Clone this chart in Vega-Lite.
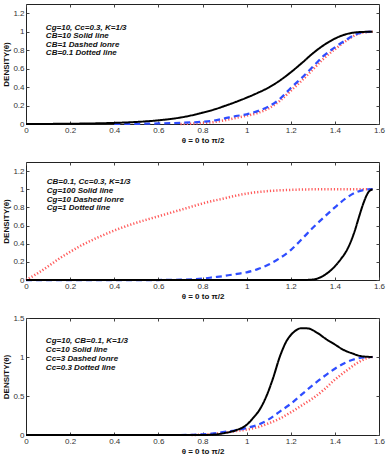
{
  "$schema": "https://vega.github.io/schema/vega-lite/v6.json",
  "padding": {"left": 2, "top": 3, "right": 4, "bottom": 2},
  "background": "white",
  "spacing": 38,
  "bounds": "flush",
  "config": {
    "view": {"stroke": "#222", "strokeWidth": 1},
    "axis": {
      "labelFont": "Liberation Sans", "labelFontSize": 8, "labelColor": "#333",
      "tickColor": "#444", "tickSize": -3, "domain": false, "grid": false,
      "titleFont": "Liberation Sans", "titleFontSize": 8, "titleFontWeight": "bold", "titleColor": "#111",
      "format": "~g", "labelFlush": false, "labelOverlap": false
    },
    "line": {"strokeCap": "butt", "interpolate": "monotone"}
  },
  "datasets": {
    "p1": [
      {"x": 0.7, "y": 0, "c": "dotted"}, {"x": 0.8, "y": 0.01, "c": "dotted"}, {"x": 0.85, "y": 0.02, "c": "dotted"}, {"x": 0.9, "y": 0.04, "c": "dotted"}, {"x": 0.95, "y": 0.065, "c": "dotted"}, {"x": 1.0, "y": 0.09, "c": "dotted"}, {"x": 1.05, "y": 0.12, "c": "dotted"}, {"x": 1.1, "y": 0.17, "c": "dotted"}, {"x": 1.15, "y": 0.25, "c": "dotted"}, {"x": 1.2, "y": 0.36, "c": "dotted"}, {"x": 1.25, "y": 0.47, "c": "dotted"}, {"x": 1.3, "y": 0.59, "c": "dotted"}, {"x": 1.35, "y": 0.71, "c": "dotted"}, {"x": 1.4, "y": 0.81, "c": "dotted"}, {"x": 1.45, "y": 0.9, "c": "dotted"}, {"x": 1.5, "y": 0.97, "c": "dotted"}, {"x": 1.55, "y": 0.997, "c": "dotted"}, {"x": 1.5708, "y": 1, "c": "dotted"},
      {"x": 0.4, "y": 0, "c": "dashed"}, {"x": 0.5, "y": 0.002, "c": "dashed"}, {"x": 0.6, "y": 0.006, "c": "dashed"}, {"x": 0.7, "y": 0.012, "c": "dashed"}, {"x": 0.8, "y": 0.025, "c": "dashed"}, {"x": 0.85, "y": 0.037, "c": "dashed"}, {"x": 0.9, "y": 0.06, "c": "dashed"}, {"x": 0.95, "y": 0.085, "c": "dashed"}, {"x": 1.0, "y": 0.105, "c": "dashed"}, {"x": 1.05, "y": 0.14, "c": "dashed"}, {"x": 1.1, "y": 0.19, "c": "dashed"}, {"x": 1.15, "y": 0.27, "c": "dashed"}, {"x": 1.2, "y": 0.39, "c": "dashed"}, {"x": 1.25, "y": 0.5, "c": "dashed"}, {"x": 1.3, "y": 0.62, "c": "dashed"}, {"x": 1.35, "y": 0.74, "c": "dashed"}, {"x": 1.4, "y": 0.83, "c": "dashed"}, {"x": 1.45, "y": 0.91, "c": "dashed"}, {"x": 1.5, "y": 0.975, "c": "dashed"}, {"x": 1.55, "y": 0.998, "c": "dashed"}, {"x": 1.5708, "y": 1, "c": "dashed"},
      {"x": 0, "y": 0, "c": "solid"}, {"x": 0.1, "y": 0.001, "c": "solid"}, {"x": 0.2, "y": 0.003, "c": "solid"}, {"x": 0.3, "y": 0.006, "c": "solid"}, {"x": 0.4, "y": 0.012, "c": "solid"}, {"x": 0.5, "y": 0.022, "c": "solid"}, {"x": 0.6, "y": 0.04, "c": "solid"}, {"x": 0.7, "y": 0.07, "c": "solid"}, {"x": 0.8, "y": 0.122, "c": "solid"}, {"x": 0.85, "y": 0.155, "c": "solid"}, {"x": 0.9, "y": 0.195, "c": "solid"}, {"x": 0.95, "y": 0.238, "c": "solid"}, {"x": 1.0, "y": 0.285, "c": "solid"}, {"x": 1.05, "y": 0.337, "c": "solid"}, {"x": 1.1, "y": 0.395, "c": "solid"}, {"x": 1.15, "y": 0.47, "c": "solid"}, {"x": 1.2, "y": 0.56, "c": "solid"}, {"x": 1.25, "y": 0.66, "c": "solid"}, {"x": 1.3, "y": 0.765, "c": "solid"}, {"x": 1.35, "y": 0.855, "c": "solid"}, {"x": 1.4, "y": 0.925, "c": "solid"}, {"x": 1.45, "y": 0.972, "c": "solid"}, {"x": 1.5, "y": 0.994, "c": "solid"}, {"x": 1.5708, "y": 1, "c": "solid"}
    ],
    "p2": [
      {"x": 0, "y": 0, "c": "dotted"}, {"x": 0.05, "y": 0.07, "c": "dotted"}, {"x": 0.1, "y": 0.15, "c": "dotted"}, {"x": 0.15, "y": 0.235, "c": "dotted"}, {"x": 0.2, "y": 0.31, "c": "dotted"}, {"x": 0.25, "y": 0.38, "c": "dotted"}, {"x": 0.3, "y": 0.44, "c": "dotted"}, {"x": 0.35, "y": 0.495, "c": "dotted"}, {"x": 0.4, "y": 0.545, "c": "dotted"}, {"x": 0.45, "y": 0.59, "c": "dotted"}, {"x": 0.5, "y": 0.63, "c": "dotted"}, {"x": 0.55, "y": 0.667, "c": "dotted"}, {"x": 0.6, "y": 0.702, "c": "dotted"}, {"x": 0.65, "y": 0.737, "c": "dotted"}, {"x": 0.7, "y": 0.772, "c": "dotted"}, {"x": 0.75, "y": 0.808, "c": "dotted"}, {"x": 0.8, "y": 0.843, "c": "dotted"}, {"x": 0.85, "y": 0.873, "c": "dotted"}, {"x": 0.9, "y": 0.9, "c": "dotted"}, {"x": 0.95, "y": 0.928, "c": "dotted"}, {"x": 1.0, "y": 0.952, "c": "dotted"}, {"x": 1.1, "y": 0.98, "c": "dotted"}, {"x": 1.2, "y": 0.993, "c": "dotted"}, {"x": 1.3, "y": 0.999, "c": "dotted"}, {"x": 1.4, "y": 1, "c": "dotted"}, {"x": 1.5708, "y": 1, "c": "dotted"},
      {"x": 0, "y": 0, "c": "dashed"}, {"x": 0.6, "y": 0, "c": "dashed"}, {"x": 0.7, "y": 0.003, "c": "dashed"}, {"x": 0.8, "y": 0.015, "c": "dashed"}, {"x": 0.85, "y": 0.03, "c": "dashed"}, {"x": 0.9, "y": 0.045, "c": "dashed"}, {"x": 0.95, "y": 0.065, "c": "dashed"}, {"x": 1.0, "y": 0.085, "c": "dashed"}, {"x": 1.05, "y": 0.12, "c": "dashed"}, {"x": 1.1, "y": 0.17, "c": "dashed"}, {"x": 1.15, "y": 0.24, "c": "dashed"}, {"x": 1.2, "y": 0.33, "c": "dashed"}, {"x": 1.25, "y": 0.45, "c": "dashed"}, {"x": 1.3, "y": 0.575, "c": "dashed"}, {"x": 1.35, "y": 0.69, "c": "dashed"}, {"x": 1.4, "y": 0.8, "c": "dashed"}, {"x": 1.45, "y": 0.9, "c": "dashed"}, {"x": 1.5, "y": 0.97, "c": "dashed"}, {"x": 1.55, "y": 0.998, "c": "dashed"}, {"x": 1.5708, "y": 1, "c": "dashed"},
      {"x": 0, "y": 0, "c": "solid"}, {"x": 1.25, "y": 0, "c": "solid"}, {"x": 1.3, "y": 0.005, "c": "solid"}, {"x": 1.35, "y": 0.05, "c": "solid"}, {"x": 1.4, "y": 0.15, "c": "solid"}, {"x": 1.43, "y": 0.24, "c": "solid"}, {"x": 1.45, "y": 0.31, "c": "solid"}, {"x": 1.47, "y": 0.41, "c": "solid"}, {"x": 1.49, "y": 0.54, "c": "solid"}, {"x": 1.51, "y": 0.7, "c": "solid"}, {"x": 1.53, "y": 0.85, "c": "solid"}, {"x": 1.55, "y": 0.96, "c": "solid"}, {"x": 1.5708, "y": 1, "c": "solid"}
    ],
    "p3": [
      {"x": 0.75, "y": 0, "c": "dotted"}, {"x": 0.8, "y": 0.005, "c": "dotted"}, {"x": 0.85, "y": 0.015, "c": "dotted"}, {"x": 0.9, "y": 0.03, "c": "dotted"}, {"x": 0.95, "y": 0.05, "c": "dotted"}, {"x": 1.0, "y": 0.07, "c": "dotted"}, {"x": 1.05, "y": 0.1, "c": "dotted"}, {"x": 1.1, "y": 0.15, "c": "dotted"}, {"x": 1.15, "y": 0.21, "c": "dotted"}, {"x": 1.2, "y": 0.29, "c": "dotted"}, {"x": 1.25, "y": 0.38, "c": "dotted"}, {"x": 1.3, "y": 0.47, "c": "dotted"}, {"x": 1.35, "y": 0.58, "c": "dotted"}, {"x": 1.4, "y": 0.71, "c": "dotted"}, {"x": 1.45, "y": 0.82, "c": "dotted"}, {"x": 1.5, "y": 0.92, "c": "dotted"}, {"x": 1.55, "y": 0.99, "c": "dotted"}, {"x": 1.5708, "y": 1, "c": "dotted"},
      {"x": 0.7, "y": 0, "c": "dashed"}, {"x": 0.75, "y": 0.002, "c": "dashed"}, {"x": 0.8, "y": 0.008, "c": "dashed"}, {"x": 0.85, "y": 0.02, "c": "dashed"}, {"x": 0.9, "y": 0.04, "c": "dashed"}, {"x": 0.95, "y": 0.06, "c": "dashed"}, {"x": 1.0, "y": 0.09, "c": "dashed"}, {"x": 1.05, "y": 0.13, "c": "dashed"}, {"x": 1.1, "y": 0.2, "c": "dashed"}, {"x": 1.15, "y": 0.3, "c": "dashed"}, {"x": 1.2, "y": 0.4, "c": "dashed"}, {"x": 1.25, "y": 0.52, "c": "dashed"}, {"x": 1.3, "y": 0.64, "c": "dashed"}, {"x": 1.35, "y": 0.75, "c": "dashed"}, {"x": 1.4, "y": 0.85, "c": "dashed"}, {"x": 1.45, "y": 0.93, "c": "dashed"}, {"x": 1.5, "y": 0.98, "c": "dashed"}, {"x": 1.55, "y": 0.998, "c": "dashed"}, {"x": 1.5708, "y": 1, "c": "dashed"},
      {"x": 0, "y": 0, "c": "solid"}, {"x": 0.8, "y": 0, "c": "solid"}, {"x": 0.85, "y": 0.005, "c": "solid"}, {"x": 0.9, "y": 0.025, "c": "solid"}, {"x": 0.95, "y": 0.06, "c": "solid"}, {"x": 1.0, "y": 0.13, "c": "solid"}, {"x": 1.03, "y": 0.22, "c": "solid"}, {"x": 1.06, "y": 0.33, "c": "solid"}, {"x": 1.09, "y": 0.5, "c": "solid"}, {"x": 1.12, "y": 0.73, "c": "solid"}, {"x": 1.15, "y": 1.0, "c": "solid"}, {"x": 1.18, "y": 1.2, "c": "solid"}, {"x": 1.21, "y": 1.31, "c": "solid"}, {"x": 1.25, "y": 1.37, "c": "solid"}, {"x": 1.28, "y": 1.365, "c": "solid"}, {"x": 1.32, "y": 1.31, "c": "solid"}, {"x": 1.36, "y": 1.23, "c": "solid"}, {"x": 1.4, "y": 1.16, "c": "solid"}, {"x": 1.44, "y": 1.09, "c": "solid"}, {"x": 1.48, "y": 1.045, "c": "solid"}, {"x": 1.52, "y": 1.01, "c": "solid"}, {"x": 1.5708, "y": 1, "c": "solid"}
    ],
    "t1": [
      {"x": 0.09, "y": 1.035, "label": "Cg=10, Cc=0.3, K=1/3"},
      {"x": 0.09, "y": 0.952, "label": "CB=10 Solid line"},
      {"x": 0.09, "y": 0.859, "label": "CB=1 Dashed lonre"},
      {"x": 0.09, "y": 0.77, "label": "CB=0.1 Dotted line"}
    ],
    "t2": [
      {"x": 0.094, "y": 1.078, "label": "CB=0.1, Cc=0.3, K=1/3"},
      {"x": 0.094, "y": 0.979, "label": "Cg=100 Solid line"},
      {"x": 0.094, "y": 0.886, "label": "Cg=10 Dashed lonre"},
      {"x": 0.094, "y": 0.794, "label": "Cg=1 Dotted line"}
    ],
    "t3": [
      {"x": 0.09, "y": 1.2, "label": "Cg=10, CB=0.1, K=1/3"},
      {"x": 0.09, "y": 1.09, "label": "Cc=10 Solid line"},
      {"x": 0.09, "y": 0.97, "label": "Cc=3 Dashed lonre"},
      {"x": 0.09, "y": 0.86, "label": "Cc=0.3 Dotted line"}
    ]
  },
  "vconcat": [
    {
      "width": 353, "height": 120,
      "layer": [
        {
          "data": {"name": "p1"},
          "mark": {"type": "line"},
          "encoding": {
            "x": {"field": "x", "type": "quantitative", "scale": {"domain": [0, 1.6], "nice": false}, "axis": {"orient": "bottom", "values": [0, 0.2, 0.4, 0.6, 0.8, 1, 1.2, 1.4, 1.6], "title": "θ = 0 to π/2", "labelPadding": 5, "titlePadding": 2}},
            "y": {"field": "y", "type": "quantitative", "scale": {"domain": [0, 1.3], "nice": false}, "axis": {"orient": "left", "values": [0, 0.2, 0.4, 0.6, 0.8, 1, 1.2], "title": "DENSITY(θ)", "labelPadding": 5, "titlePadding": 2}},
            "color": {"field": "c", "type": "nominal", "legend": null, "scale": {"domain": ["solid", "dashed", "dotted"], "range": ["#000000", "#2f4dff", "#ff5a5a"]}},
            "strokeDash": {"field": "c", "type": "nominal", "legend": null, "scale": {"domain": ["solid", "dashed", "dotted"], "range": [[1, 0], [6, 4], [1.2, 2]]}},
            "strokeWidth": {"field": "c", "type": "nominal", "legend": null, "scale": {"domain": ["solid", "dashed", "dotted"], "range": [2, 2.5, 1.5]}}
          }
        },
        {
          "data": {"name": "t1"},
          "mark": {"type": "text", "align": "left", "baseline": "middle", "font": "Liberation Sans", "fontSize": 8, "fontStyle": "italic", "fontWeight": "bold", "color": "#111"},
          "encoding": {
            "x": {"field": "x", "type": "quantitative", "axis": {"orient": "top", "labels": false, "title": null, "values": [0, 0.2, 0.4, 0.6, 0.8, 1, 1.2, 1.4, 1.6]}},
            "y": {"field": "y", "type": "quantitative", "axis": {"orient": "right", "labels": false, "title": null, "values": [0, 0.2, 0.4, 0.6, 0.8, 1, 1.2]}},
            "text": {"field": "label", "type": "nominal"}
          }
        }
      ],
      "resolve": {"axis": {"x": "independent", "y": "independent"}}
    },
    {
      "width": 353, "height": 118,
      "layer": [
        {
          "data": {"name": "p2"},
          "mark": {"type": "line"},
          "encoding": {
            "x": {"field": "x", "type": "quantitative", "scale": {"domain": [0, 1.6], "nice": false}, "axis": {"orient": "bottom", "values": [0, 0.2, 0.4, 0.6, 0.8, 1, 1.2, 1.4, 1.6], "title": "θ = 0 to π/2", "labelPadding": 5, "titlePadding": 2}},
            "y": {"field": "y", "type": "quantitative", "scale": {"domain": [0, 1.3], "nice": false}, "axis": {"orient": "left", "values": [0, 0.2, 0.4, 0.6, 0.8, 1, 1.2], "title": "DENSITY(θ)", "labelPadding": 5, "titlePadding": 2}},
            "color": {"field": "c", "type": "nominal", "legend": null, "scale": {"domain": ["solid", "dashed", "dotted"], "range": ["#000000", "#2f4dff", "#ff5a5a"]}},
            "strokeDash": {"field": "c", "type": "nominal", "legend": null, "scale": {"domain": ["solid", "dashed", "dotted"], "range": [[1, 0], [6, 4], [1.2, 2]]}},
            "strokeWidth": {"field": "c", "type": "nominal", "legend": null, "scale": {"domain": ["solid", "dashed", "dotted"], "range": [2, 2.5, 1.5]}}
          }
        },
        {
          "data": {"name": "t2"},
          "mark": {"type": "text", "align": "left", "baseline": "middle", "font": "Liberation Sans", "fontSize": 8, "fontStyle": "italic", "fontWeight": "bold", "color": "#111"},
          "encoding": {
            "x": {"field": "x", "type": "quantitative", "axis": {"orient": "top", "labels": false, "title": null, "values": [0, 0.2, 0.4, 0.6, 0.8, 1, 1.2, 1.4, 1.6]}},
            "y": {"field": "y", "type": "quantitative", "axis": {"orient": "right", "labels": false, "title": null, "values": [0, 0.2, 0.4, 0.6, 0.8, 1, 1.2]}},
            "text": {"field": "label", "type": "nominal"}
          }
        }
      ],
      "resolve": {"axis": {"x": "independent", "y": "independent"}}
    },
    {
      "width": 353, "height": 117,
      "layer": [
        {
          "data": {"name": "p3"},
          "mark": {"type": "line"},
          "encoding": {
            "x": {"field": "x", "type": "quantitative", "scale": {"domain": [0, 1.6], "nice": false}, "axis": {"orient": "bottom", "values": [0, 0.2, 0.4, 0.6, 0.8, 1, 1.2, 1.4, 1.6], "title": "θ = 0 to π/2", "labelPadding": 5, "titlePadding": 2}},
            "y": {"field": "y", "type": "quantitative", "scale": {"domain": [0, 1.5], "nice": false}, "axis": {"orient": "left", "values": [0, 0.5, 1, 1.5], "title": "DENSITY(θ)", "labelPadding": 5, "titlePadding": 2}},
            "color": {"field": "c", "type": "nominal", "legend": null, "scale": {"domain": ["solid", "dashed", "dotted"], "range": ["#000000", "#2f4dff", "#ff5a5a"]}},
            "strokeDash": {"field": "c", "type": "nominal", "legend": null, "scale": {"domain": ["solid", "dashed", "dotted"], "range": [[1, 0], [6, 4], [1.2, 2]]}},
            "strokeWidth": {"field": "c", "type": "nominal", "legend": null, "scale": {"domain": ["solid", "dashed", "dotted"], "range": [2, 2.5, 1.5]}}
          }
        },
        {
          "data": {"name": "t3"},
          "mark": {"type": "text", "align": "left", "baseline": "middle", "font": "Liberation Sans", "fontSize": 8, "fontStyle": "italic", "fontWeight": "bold", "color": "#111"},
          "encoding": {
            "x": {"field": "x", "type": "quantitative", "axis": {"orient": "top", "labels": false, "title": null, "values": [0, 0.2, 0.4, 0.6, 0.8, 1, 1.2, 1.4, 1.6]}},
            "y": {"field": "y", "type": "quantitative", "axis": {"orient": "right", "labels": false, "title": null, "values": [0, 0.5, 1, 1.5]}},
            "text": {"field": "label", "type": "nominal"}
          }
        }
      ],
      "resolve": {"axis": {"x": "independent", "y": "independent"}}
    }
  ]
}
